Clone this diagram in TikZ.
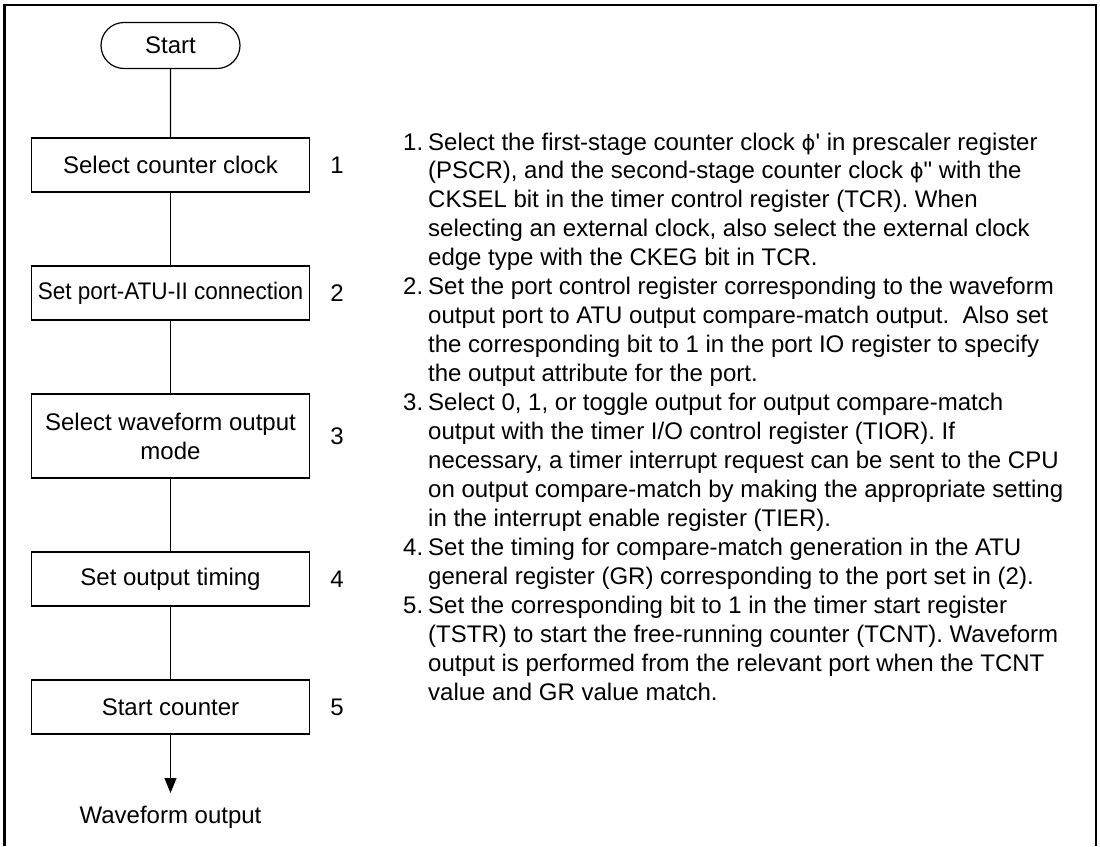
\documentclass[tikz,border=0pt]{standalone}
\usepackage{fontspec}
\setmainfont{Liberation Sans}[Ligatures=TeXOff]
\newfontfamily\phifont{DejaVu Sans}
\usetikzlibrary{arrows.meta,shapes.misc}
\newcommand{\myphi}{{\phifont\fontsize{21}{29}\selectfont ϕ}}
\begin{document}
\frenchspacing
\begin{tikzpicture}[x=1pt,y=-1pt,
  every node/.style={font=\fontsize{24}{28.95}\selectfont, inner sep=0pt},
  stepbox/.style={draw, line width=1.2pt, minimum width=278pt, minimum height=54pt, align=center},
  startbox/.style={draw, line width=1.2pt, rounded rectangle, minimum width=139pt, minimum height=46pt},
  flow/.style={line width=1.2pt},
  txt/.style={anchor=base west, align=left},
  lbl/.style={anchor=base west}]
\useasboundingbox (0,0) rectangle (1100,846);
\draw[line width=2.5pt] (4.5,846) -- (4.5,5) -- (1096,5) -- (1096,846);

\node[startbox] (start) at (170.5,45.5) {Start};
\node[stepbox] (b1) at (170.5,165) {Select counter clock};
\node[stepbox] (b2) at (170.5,293) {\scalebox{0.94}[1]{Set port-ATU-II connection}};
\node[stepbox, minimum height=84pt] (b3) at (170.5,436) {Select waveform output\\mode};
\node[stepbox] (b4) at (170.5,579) {Set output timing};
\node[stepbox] (b5) at (170.5,707) {Start counter};
\coordinate (tip) at (170.5,793);
\node (wo) at (170.5,817) {Waveform output};

\draw[flow] (start) -- (b1);
\draw[flow] (b1) -- (b2);
\draw[flow] (b2) -- (b3);
\draw[flow] (b3) -- (b4);
\draw[flow] (b4) -- (b5);
\draw[flow, -{Triangle[width=12pt,length=15pt]}] (b5) -- (tip);

\node (n1) at (337,165) {1};
\node (n2) at (337,293) {2};
\node (n3) at (337,436) {3};
\node (n4) at (337,579) {4};
\node (n5) at (337,707) {5};

% multi-line nodes: base anchor sits on the last line's baseline
\node[lbl] (l1) at (403,150) {1.};
\node[txt] (t1) at (428,265.8) {Select the first-stage counter clock \myphi' in prescaler register\\
(PSCR), and the second-stage counter clock \myphi" with the\\
CKSEL bit in the timer control register (TCR). When\\
selecting an external clock, also select the external clock\\
edge type with the CKEG bit in TCR.};
\node[lbl] (l2) at (403,294.75) {2.};
\node[txt] (t2) at (428,381.6) {Set the port control register corresponding to the waveform\\
output port to ATU output compare-match output.~ Also set\\
the corresponding bit to 1 in the port IO register to specify\\
the output attribute for the port.};
\node[lbl] (l3) at (403,410.55) {3.};
\node[txt] (t3) at (428,526.35) {Select 0, 1, or toggle output for output compare-match\\
output with the timer I/O control register (TIOR). If\\
necessary, a timer interrupt request can be sent to the CPU\\
on output compare-match by making the appropriate setting\\
in the interrupt enable register (TIER).};
\node[lbl] (l4) at (403,555.3) {4.};
\node[txt] (t4) at (428,584.25) {Set the timing for compare-match generation in the ATU\\
general register (GR) corresponding to the port set in (2).};
\node[lbl] (l5) at (403,613.2) {5.};
\node[txt] (t5) at (428,700.05) {Set the corresponding bit to 1 in the timer start register\\
(TSTR) to start the free-running counter (TCNT). Waveform\\
output is performed from the relevant port when the TCNT\\
value and GR value match.};
\end{tikzpicture}
\end{document}
